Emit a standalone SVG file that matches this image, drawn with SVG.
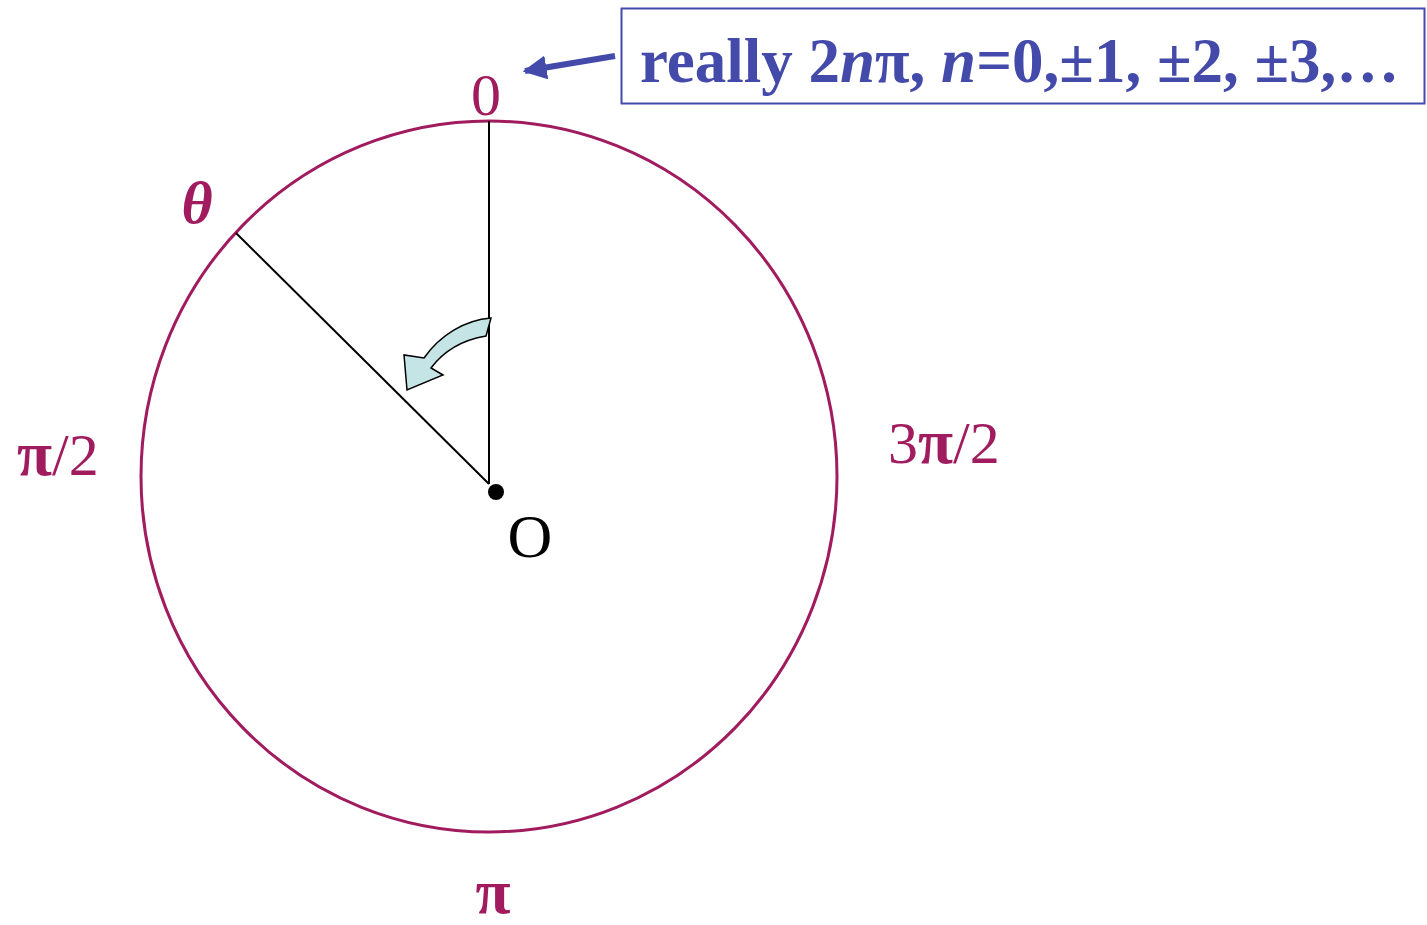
<svg xmlns="http://www.w3.org/2000/svg" width="1427" height="925" viewBox="0 0 1427 925">
<style>
.lbl{font-family:"Liberation Serif",serif;font-size:60px;fill:#A01C5F}
.pi{font-weight:bold;font-size:64px}
.note{font-family:"Liberation Serif",serif;font-weight:bold;font-size:63px;fill:#434AAA}
</style>
<defs>
<marker id="ah" viewBox="0 0 10 10" refX="9" refY="5" markerWidth="4" markerHeight="4" orient="auto" markerUnits="strokeWidth">
<path d="M0,0 L10,5 L0,10 Z" fill="#434AAA"/>
</marker>
</defs>
<rect width="1427" height="925" fill="#fff"/>
<g id="circle">
<ellipse cx="489" cy="476.5" rx="348" ry="355.5" fill="none" stroke="#A01C5F" stroke-width="3"/>
</g>
<g id="connectors">
<line x1="489" y1="121" x2="489" y2="484" stroke="#000" stroke-width="2"/>
<line x1="236" y1="233" x2="489" y2="484" stroke="#000" stroke-width="2"/>
<line x1="615" y1="56" x2="525" y2="71" stroke="#434AAA" stroke-width="6" marker-end="url(#ah)"/>
<path d="M491,318 C465,320 440,335 424,358 L404,355 L407,390 L443,375 L431,368 C443,352 462,340 486,336 Z" fill="#C5E4E6" stroke="#000" stroke-width="1.5" stroke-linejoin="miter"/>
</g>
<g id="origin">
<circle cx="496" cy="492" r="8" fill="#000"/>
<text x="530" y="557" font-family="Liberation Serif,serif" font-size="62" fill="#000" text-anchor="middle">O</text>
</g>
<g id="labels">
<text class="lbl" x="486" y="115" text-anchor="middle">0</text>
<text class="lbl" x="197" y="223" text-anchor="middle" font-style="italic" font-weight="bold" font-size="56">θ</text>
<text class="lbl" x="17" y="475"><tspan class="pi">π</tspan>/2</text>
<text class="lbl" x="888" y="463">3<tspan class="pi">π</tspan>/2</text>
<text class="lbl pi" x="493" y="913" text-anchor="middle">π</text>
</g>
<g id="note">
<rect x="621.5" y="8.5" width="803" height="95" fill="#fff" stroke="#434AAA" stroke-width="2"/>
<text class="note" x="640" y="82">really 2<tspan font-style="italic">n</tspan>π, <tspan font-style="italic">n</tspan>=0,±1, ±2, ±3,…</text>
</g>
</svg>
